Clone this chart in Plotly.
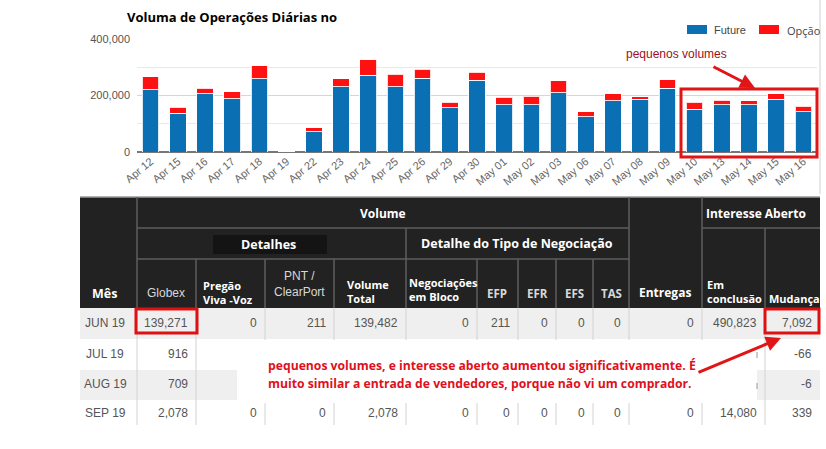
import plotly.graph_objects as go

W, H = 826, 449

# ---------------- chart data ----------------
dates = ["Apr 12", "Apr 15", "Apr 16", "Apr 17", "Apr 18", "Apr 19", "Apr 22", "Apr 23",
         "Apr 24", "Apr 25", "Apr 26", "Apr 29", "Apr 30", "May 01", "May 02", "May 03",
         "May 06", "May 07", "May 08", "May 09", "May 10", "May 13", "May 14", "May 15", "May 16"]
future = [221000, 138000, 207000, 188000, 260000, 2000, 72000, 231000,
          272000, 231000, 261000, 156000, 254000, 167000, 167000, 210000,
          125000, 182000, 186000, 226000, 152000, 167000, 167000, 186000, 143000]
opcao = [46000, 20000, 19000, 26000, 45000, 1000, 14000, 28000,
         55000, 45000, 32000, 20000, 28000, 27000, 31000, 42000,
         18000, 24000, 9000, 30000, 24000, 17000, 14000, 20000, 19000]
y_ticks = [0, 200000, 400000]

# ---------------- table data ----------------
months = ["JUN 19", "JUL 19", "AUG 19", "SEP 19"]
globex = ["139,271", "916", "709", "2,078"]
pregao = ["0", None, None, "0"]
pnt = ["211", None, None, "0"]
vol_total = ["139,482", None, None, "2,078"]
bloco = ["0", None, None, "0"]
efp = ["211", None, None, "0"]
efr = ["0", None, None, "0"]
efs = ["0", None, None, "0"]
tas = ["0", None, None, "0"]
entregas = ["0", None, None, "0"]
em_conclusao = ["490,823", None, None, "14,080"]
mudanca = ["7,092", "-66", "-6", "339"]

BLUE = "#0b6fb4"
RED = "#ff1111"

fig = go.Figure()
fig.add_trace(go.Bar(x=dates, y=future, name="Future", marker=dict(color=BLUE, line=dict(color="rgba(255,255,255,0.85)", width=1)),
                     showlegend=False))
fig.add_trace(go.Bar(x=dates, y=opcao, name="Opção", marker=dict(color=RED, line=dict(color="rgba(255,255,255,0.85)", width=1)),
                     showlegend=False))
# invisible trace for pixel overlay axes
fig.add_trace(go.Scatter(x=[0], y=[0], xaxis="x2", yaxis="y2", mode="markers",
                         marker=dict(opacity=0), showlegend=False, hoverinfo="skip"))

def py(y):
    return 1 - y / H

fig.update_layout(
    width=W, height=H, margin=dict(l=0, r=0, t=0, b=0, autoexpand=False),
    paper_bgcolor="white", plot_bgcolor="rgba(0,0,0,0)",
    barmode="stack", bargap=0.39,
    xaxis=dict(domain=[137 / W, 817 / W], anchor="y", tickangle=-40, showgrid=False, ticks="",
               tickfont=dict(family="Liberation Sans, Arial", size=11, color="#666"), showline=False,
               automargin=False),
    yaxis=dict(domain=[py(152), py(39)], anchor="x", range=[0, 400000], tickvals=y_ticks,
               tickformat=",d", gridcolor="#d6d6d6", gridwidth=1, zeroline=True, zerolinecolor="#777",
               zerolinewidth=1.5, tickfont=dict(family="Liberation Sans, Arial", size=11, color="#555"),
               minor=dict(tickvals=[100000, 300000], showgrid=True, gridcolor="#e8e8e8", gridwidth=1),
               ticklabelstandoff=6, automargin=False),
    xaxis2=dict(domain=[0, 1], range=[0, W], anchor="y2", visible=False, fixedrange=True, automargin=False),
    yaxis2=dict(domain=[0, 1], range=[H, 0], anchor="x2", visible=False, fixedrange=True, automargin=False),
)

shapes = []
ann = []

def rect(x0, y0, x1, y1, fill=None, line=None, lw=0):
    shapes.append(dict(type="rect", xref="x2", yref="y2", x0=x0, y0=y0, x1=x1, y1=y1,
                       fillcolor=fill if fill else "rgba(0,0,0,0)",
                       line=dict(color=line if line else "rgba(0,0,0,0)", width=lw)))

def line(x0, y0, x1, y1, color, lw=1):
    shapes.append(dict(type="line", xref="x2", yref="y2", x0=x0, y0=y0, x1=x1, y1=y1,
                       line=dict(color=color, width=lw)))

def text(x, y, s, size=12, color="#555", family="Liberation Sans, Arial", xanchor="center", bold=False, align="left"):
    if bold:
        s = "<b>" + s + "</b>"
    ann.append(dict(xref="x2", yref="y2", x=x, y=y, text=s, showarrow=False, xanchor=xanchor,
                    yanchor="middle", align=align, font=dict(size=size, color=color, family=family)))

# ---- chart decorations ----
line(820, 0, 820, 194, "#cfcfcf", 1)
text(125, 17, "Voluma de Operações Diárias no", size=13, color="#000", family="Open Sans", xanchor="left", bold=True)
# legend
rect(687, 25, 707, 34, fill=BLUE)
text(712, 30, "Future", size=11, color="#444", xanchor="left")
rect(759, 25, 779, 34, fill=RED)
text(785, 30, "Opção", size=11, color="#444", family="Open Sans", xanchor="left")
# highlight
text(624, 54, "pequenos volumes", size=12, color="#a01018", xanchor="left")
rect(681, 89, 817, 157, line="#e01515", lw=3)
ann.append(dict(xref="x2", yref="y2", axref="x2", ayref="y2", x=755, y=88, ax=712, ay=66,
                showarrow=True, arrowhead=2, arrowsize=1, arrowwidth=3, arrowcolor="#e01515", text=""))

# ---- table ----
cols = [80, 137, 196, 265, 334, 406, 477, 518, 556, 593, 629, 702, 765, 820]
rows = [308, 339, 370, 400, 427]
HDR = "#222222"
HL = "#5e5e5e"

# data backgrounds
rect(80, rows[0], 820, rows[1], fill="#efefef")
rect(80, rows[2], 820, rows[3], fill="#efefef")
for cx in cols[1:-1]:
    line(cx, rows[0], cx, rows[4] - 2, "#d2d2d2", 1)
# header
rect(80, 197, 820, 308, fill=HDR)
line(80, 197, 820, 197, "#9a9a9a", 1.5)
for cx in [137, 629, 702]:
    line(cx, 197, cx, 308, HL, 1.5)
line(137, 228, 629, 228, HL, 1.5)
line(702, 228, 820, 228, HL, 1.5)
line(137, 259, 629, 259, HL, 1.5)
line(406, 228, 406, 308, HL, 1.5)
line(765, 228, 765, 308, HL, 1.5)
for cx in [196, 265, 334, 477, 518, 556, 593]:
    line(cx, 259, cx, 308, HL, 1.5)
rect(213, 235, 327, 254, fill="#141414")

HF = "Open Sans"
text(383, 213, "Volume", size=12, color="#fff", family=HF, bold=True)
text(704, 213, "Interesse Aberto", size=12, color="#fff", family=HF, bold=True, xanchor="left")
text(268, 244, "Detalhes", size=12.5, color="#fff", family=HF, bold=True)
text(517, 243, "Detalhe do Tipo de Negociação", size=12.5, color="#fff", family=HF, bold=True)
text(104, 293, "Mês", size=12.5, color="#fff", family=HF, bold=True)
text(166, 293, "Globex", size=12, color="#d8d8d8", family="Liberation Sans, Arial", bold=False)
text(201, 292, "Pregão<br>Viva -Voz", size=11, color="#fff", family=HF, bold=True, xanchor="left")
text(299, 284, "PNT /<br>ClearPort", size=12, color="#d8d8d8", family="Liberation Sans, Arial", align="center")
text(345, 291, "Volume<br>Total", size=11, color="#fff", family=HF, bold=True, xanchor="left")
text(407, 289, "Negociações<br>em Bloco", size=11, color="#fff", family=HF, bold=True, xanchor="left")
text(497, 293, "EFP", size=11.5, color="#d8d8d8", family=HF, bold=True)
text(537, 293, "EFR", size=11.5, color="#d8d8d8", family=HF, bold=True)
text(574, 293, "EFS", size=11.5, color="#d8d8d8", family=HF, bold=True)
text(611, 293, "TAS", size=11.5, color="#d8d8d8", family=HF, bold=True)
text(665, 292, "Entregas", size=12, color="#fff", family=HF, bold=True)
text(705, 291, "Em<br>conclusão", size=11, color="#fff", family=HF, bold=True, xanchor="left")
text(767, 298, "Mudança", size=11, color="#fff", family=HF, bold=True, xanchor="left")

# data text
table_cols = [globex, pregao, pnt, vol_total, bloco, efp, efr, efs, tas, entregas, em_conclusao, mudanca]
for r, m in enumerate(months):
    yc = (rows[r] + rows[r + 1]) / 2 - 1
    text(105, yc, m, size=12, color="#555", family="Liberation Sans, Arial")
    for ci, colvals in enumerate(table_cols):
        v = colvals[r]
        if v is None:
            continue
        text(cols[ci + 2] - 6, yc, v, size=12, color="#555", family="Liberation Sans, Arial", xanchor="right")

# white note box over the table
rect(197, 340, 757, 370, fill="white")
rect(237, 369, 757, 403, fill="white")
line(757, 352, 757, 358, "#999", 1)
line(757, 383, 757, 389, "#999", 1)

text(266, 365, "pequenos volumes, e interesse aberto aumentou significativamente. É", size=12.2,
     color="#e01020", family=HF, bold=True, xanchor="left")
text(266, 383, "muito similar a entrada de vendedores, porque não vi um comprador.", size=12.2,
     color="#e01020", family=HF, bold=True, xanchor="left")

# red boxes and arrow
rect(136, 309, 197, 333, line="#dd1111", lw=3)
rect(765, 309, 819, 333, line="#dd1111", lw=3)
ann.append(dict(xref="x2", yref="y2", axref="x2", ayref="y2", x=781, y=338, ax=697, ay=373,
                showarrow=True, arrowhead=2, arrowsize=1, arrowwidth=3, arrowcolor="#e01515", text=""))

fig.update_layout(shapes=shapes, annotations=ann)
fig.write_html("out.html", config={"displayModeBar": False},
               post_script="document.body.style.margin='0px';document.body.style.overflow='hidden';")
